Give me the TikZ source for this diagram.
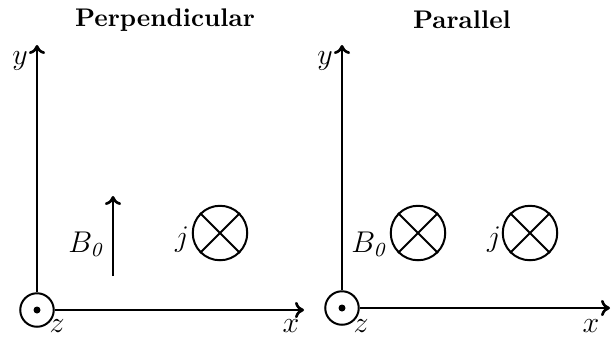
\documentclass[tikz,border=0pt]{standalone}
\usetikzlibrary{arrows.meta}
\begin{document}
\begin{tikzpicture}[x=0.4pt,y=-0.4pt,
  axis/.style={line width=1.05pt,-{To[length=3.6pt,width=6.5pt,line width=1.05pt]}},
  ring/.style={circle,draw,line width=0.8pt,inner sep=0pt},
  origin/.style={ring,minimum size=13.4pt},
  cross/.style={ring,minimum size=21.8pt},
  xline/.style={line width=0.8pt},
  lbl/.style={inner sep=0pt,font=\fontsize{12}{14}\selectfont},
  title/.style={inner sep=0pt,font=\fontsize{10.2}{12}\selectfont\bfseries}]
\useasboundingbox (0,0) rectangle (614,336);
% titles
\node[title] (tL) at (165,20) {Perpendicular};
\node[title] (tR) at (462,20) {Parallel};
% left panel
\node[origin] (oL) at (37,310) {};
\fill (oL.center) circle (1.4pt);
\coordinate (yL) at (37,45);
\coordinate (xL) at (304,310);
\draw[axis] (oL.north) -- (yL);
\draw[axis] (oL.east) -- (xL);
\node[lbl] (ylL) at (20,61) {$y$};
\node[lbl] (zlL) at (57,326) {$z$};
\node[lbl] (xlL) at (291,326) {$x$};
\coordinate (bS) at (113,276);
\coordinate (bE) at (113,196);
\draw[axis] (bS) -- (bE);
\node[lbl] (bL) at (87,244) {$B_{\mathit{0}}$};
\node[cross] (jL) at (220,233) {};
\draw[xline] (jL.north east) -- (jL.south west) (jL.north west) -- (jL.south east);
\node[lbl] (jlL) at (182,240) {$j$};
% right panel
\node[origin] (oR) at (342,308) {};
\fill (oR.center) circle (1.4pt);
\coordinate (yR) at (342,45);
\coordinate (xR) at (610,308);
\draw[axis] (oR.north) -- (yR);
\draw[axis] (oR.east) -- (xR);
\node[lbl] (ylR) at (325,61) {$y$};
\node[lbl] (zlR) at (361,326) {$z$};
\node[lbl] (xlR) at (591,326) {$x$};
\node[cross] (bR) at (418,233) {};
\draw[xline] (bR.north east) -- (bR.south west) (bR.north west) -- (bR.south east);
\node[lbl] (blR) at (370,244) {$B_{\mathit{0}}$};
\node[cross] (jR) at (530,233) {};
\draw[xline] (jR.north east) -- (jR.south west) (jR.north west) -- (jR.south east);
\node[lbl] (jlR) at (494,240) {$j$};
\end{tikzpicture}
\end{document}
